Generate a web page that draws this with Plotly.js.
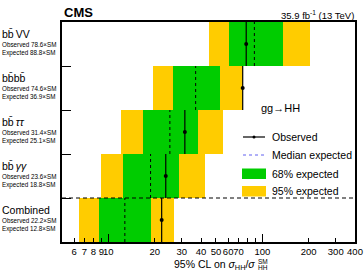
<!DOCTYPE html>
<html>
<head>
<meta charset="utf-8">
<script src="https://cdn.plot.ly/plotly-3.0.1.min.js"></script>
<style>
  html, body { margin: 0; padding: 0; background: #fff; }
  #chart { width: 364px; height: 279px; }
</style>
</head>
<body>
<div id="chart"></div>
<script>
// Channels, bottom row first
const channels = ['Combined', 'bb\u0304\u2009<i>\u03b3\u03b3</i>', 'bb\u0304\u2009<i>\u03c4\u03c4</i>', 'bb\u0304bb\u0304', 'bb\u0304\u2009VV'];
// 95% CL upper limits on sigma_HH / sigma_HH^SM
const observed = [22.2, 23.6, 31.4, 74.6, 78.6];
const expected = [12.8, 18.8, 25.1, 36.9, 88.8];
// Expected-limit bands
const lo95 = [6.4, 8.9, 12.0, 19.4, 44.8];
const lo68 = [8.7, 12.4, 16.7, 26.2, 61.1];
const hi68 = [19.0, 28.6, 38.0, 53.1, 137];
const hi95 = [26.8, 42.2, 55.2, 74.5, 204];
// Axis ticks
const tickValues = [6, 7, 8, 9, 10, 20, 30, 40, 50, 60, 70, 80, 90, 100, 200, 300, 400];
const tickLabels = ['6', '7', '8', '9', '10', '20', '30', '40', '50', '60', '70', '', '', '100', '200', '300', '400'];
const majorTicks = [10, 100];

const GREEN = '#00cc00';
const YELLOW = '#ffcc00';
const FONT = 'Liberation Sans, Arial, Helvetica, sans-serif';

const rows = channels.map((_, i) => i);

function verticalSegments(vals) {
  const xs = [], ys = [];
  vals.forEach((v, i) => { xs.push(v, v, null); ys.push(i - 0.5, i + 0.5, null); });
  return { x: xs, y: ys };
}

const med = verticalSegments(expected);
const obs = verticalSegments(observed);

const traces = [
  { type: 'bar', orientation: 'h', y: rows, base: lo95, x: hi95.map((h, i) => h - lo95[i]),
    width: 1, marker: { color: YELLOW, line: { width: 0 } }, hoverinfo: 'skip' },
  { type: 'bar', orientation: 'h', y: rows, base: lo68, x: hi68.map((h, i) => h - lo68[i]),
    width: 1, marker: { color: GREEN, line: { width: 0 } }, hoverinfo: 'skip' },
  { type: 'scatter', mode: 'lines', x: med.x, y: med.y,
    line: { color: '#000', width: 1, dash: '3px,3px' }, hoverinfo: 'skip' },
  { type: 'scatter', mode: 'lines', x: obs.x, y: obs.y,
    line: { color: '#000', width: 1.2 }, hoverinfo: 'skip' },
  { type: 'scatter', mode: 'markers', x: observed, y: rows,
    marker: { color: '#000', size: 4 }, hoverinfo: 'skip' },
  // long ticks at the decades
  { type: 'scatter', mode: 'markers', x: majorTicks, y: [0, 0], xaxis: 'x2',
    marker: { opacity: 0 }, hoverinfo: 'skip' }
];

// plot-area geometry helpers for paper coordinates
const L = 62, T = 22, W = 293, H = 220;
const px = x => (x - L) / W;
const py = y => (T + H - y) / H;

const annotations = [];
channels.forEach((name, i) => {
  annotations.push({ xref: 'paper', yref: 'y', x: px(0), y: i + 0.22, xanchor: 'left', yanchor: 'middle',
    text: name, showarrow: false, font: { family: FONT, size: 10.5, color: '#000' } });
  annotations.push({ xref: 'paper', yref: 'y', x: px(0), y: i - 0.01, xanchor: 'left', yanchor: 'middle',
    text: 'Observed ' + observed[i].toFixed(1) + '\u00d7SM', showarrow: false,
    font: { family: FONT, size: 6.3, color: '#000' } });
  annotations.push({ xref: 'paper', yref: 'y', x: px(0), y: i - 0.2, xanchor: 'left', yanchor: 'middle',
    text: 'Expected ' + expected[i].toFixed(1) + '\u00d7SM', showarrow: false,
    font: { family: FONT, size: 6.3, color: '#000' } });
});

annotations.push(
  { xref: 'paper', yref: 'paper', x: px(62), y: py(13), xanchor: 'left', yanchor: 'middle',
    text: '<b>CMS</b>', showarrow: false, font: { family: FONT, size: 13, color: '#000' } },
  { xref: 'paper', yref: 'paper', x: px(356), y: py(15), xanchor: 'right', yanchor: 'middle',
    text: '35.9 fb<sup>-1</sup> (13 TeV)', showarrow: false, font: { family: FONT, size: 9.5, color: '#000' } },
  { xref: 'paper', yref: 'paper', x: px(259), y: py(108), xanchor: 'left', yanchor: 'middle',
    text: 'gg\u2192HH', showarrow: false, font: { family: FONT, size: 11, color: '#000' } },
  // x-axis title with stacked sub/superscript on the SM cross section
  { xref: 'paper', yref: 'paper', x: px(257), y: py(265), xanchor: 'right', yanchor: 'middle',
    text: '95% CL on <i>\u03c3</i><sub>HH</sub>/<i>\u03c3</i>', showarrow: false,
    font: { family: FONT, size: 10.5, color: '#000' } },
  { xref: 'paper', yref: 'paper', x: px(256), y: py(267.5), xanchor: 'left', yanchor: 'middle',
    text: 'HH', showarrow: false, font: { family: FONT, size: 6.5, color: '#000' } },
  { xref: 'paper', yref: 'paper', x: px(256), y: py(261.5), xanchor: 'left', yanchor: 'middle',
    text: 'SM', showarrow: false, font: { family: FONT, size: 6.5, color: '#000' } }
);

// legend
const legendItems = [
  { label: 'Observed', y: 137 },
  { label: 'Median expected', y: 155 },
  { label: '68% expected', y: 173.5 },
  { label: '95% expected', y: 191 }
];
legendItems.forEach(it => annotations.push({
  xref: 'paper', yref: 'paper', x: px(270), y: py(it.y), xanchor: 'left', yanchor: 'middle',
  text: it.label, showarrow: false, font: { family: FONT, size: 10.5, color: '#000' }
}));

const shapes = [
  // separator above the combined row
  { type: 'line', xref: 'paper', yref: 'y', x0: 0, x1: 1, y0: 0.5, y1: 0.5,
    line: { color: '#000', width: 1, dash: '4px,3px' }, layer: 'above' },
  // legend symbols
  { type: 'line', xref: 'paper', yref: 'paper', x0: px(243), x1: px(265), y0: py(137), y1: py(137),
    line: { color: '#000', width: 1.2 } },
  { type: 'circle', xref: 'paper', yref: 'paper', x0: px(252.5), x1: px(255.5), y0: py(135.5), y1: py(138.5),
    fillcolor: '#000', line: { width: 0 } },
  { type: 'line', xref: 'paper', yref: 'paper', x0: px(243), x1: px(265), y0: py(155), y1: py(155),
    line: { color: '#6060f0', width: 1, dash: '3px,3px' } },
  { type: 'rect', xref: 'paper', yref: 'paper', x0: px(242), x1: px(266), y0: py(168.5), y1: py(179),
    fillcolor: GREEN, line: { width: 0 } },
  { type: 'rect', xref: 'paper', yref: 'paper', x0: px(242), x1: px(266), y0: py(186), y1: py(196.5),
    fillcolor: YELLOW, line: { width: 0 } }
];

const xRange = [Math.log10(5), Math.log10(400)];

const layout = {
  width: 364, height: 279,
  margin: { l: 62, r: 9, t: 22, b: 37, pad: 0 },
  paper_bgcolor: '#fff', plot_bgcolor: '#fff',
  showlegend: false,
  barmode: 'overlay', bargap: 0,
  font: { family: FONT, color: '#000' },
  xaxis: {
    type: 'log', range: xRange, tickmode: 'array', tickvals: tickValues, ticktext: tickLabels,
    tickangle: 0, automargin: false,
    ticks: 'inside', ticklen: 4, tickwidth: 1, tickcolor: '#000',
    showline: true, linecolor: '#000', linewidth: 2, mirror: true,
    showgrid: false, zeroline: false,
    tickfont: { family: FONT, size: 9.5, color: '#000' }
  },
  xaxis2: {
    type: 'log', range: xRange, overlaying: 'x', tickmode: 'array', tickvals: majorTicks,
    ticks: 'inside', ticklen: 8, tickwidth: 1, tickcolor: '#000', side: 'bottom',
    showticklabels: false, showgrid: false, zeroline: false, showline: false
  },
  yaxis: {
    range: [-0.5, 4.5], tickmode: 'array', tickvals: [0.5, 1.5, 2.5, 3.5],
    ticks: 'inside', ticklen: 9, tickwidth: 1, tickcolor: '#000', showticklabels: false,
    showline: true, linecolor: '#000', linewidth: 2, mirror: true,
    showgrid: false, zeroline: false, fixedrange: true
  },
  annotations: annotations,
  shapes: shapes
};

Plotly.newPlot('chart', traces, layout, { displayModeBar: false, staticPlot: true });
</script>
</body>
</html>
